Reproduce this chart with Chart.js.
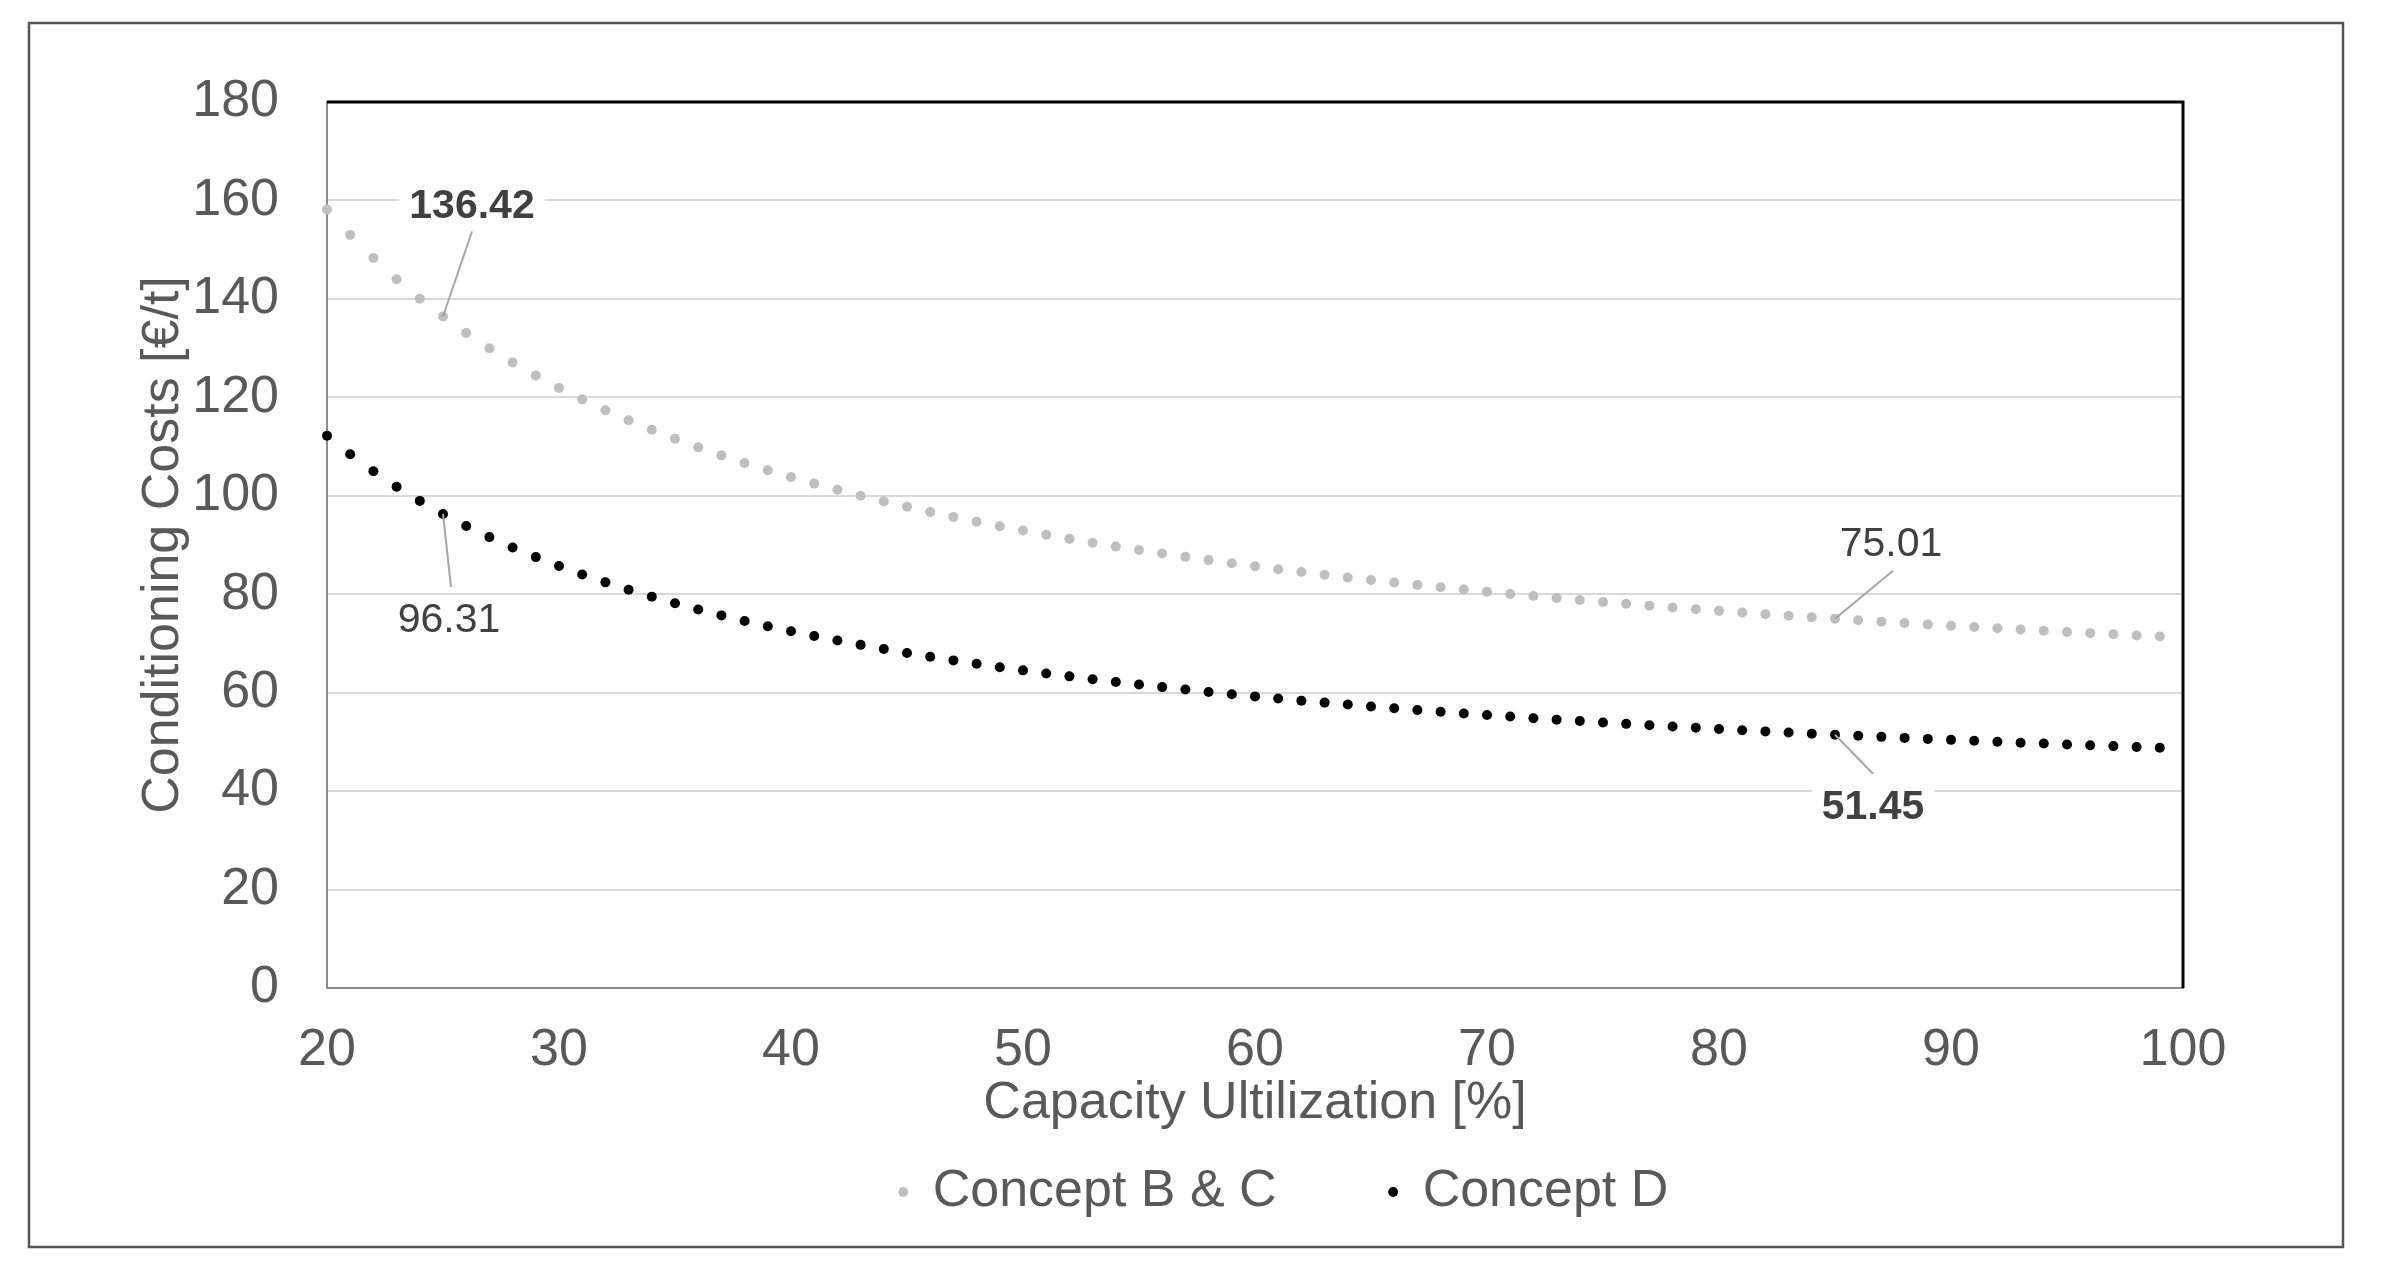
<!DOCTYPE html>
<html>
<head>
<meta charset="utf-8">
<title>Conditioning Costs vs Capacity Utilization</title>
<script src="https://cdn.jsdelivr.net/npm/chart.js@4.4.1/dist/chart.umd.min.js"></script>
<style>
  html, body { margin: 0; padding: 0; background: #ffffff; overflow: hidden; }
  canvas { display: block; }
</style>
</head>
<body>
<canvas id="chart" width="2386" height="1284"></canvas>
<script>
// ---------------- data ----------------
const utilization = [
  20, 21, 22, 23, 24, 25, 26, 27, 28, 29,
  30, 31, 32, 33, 34, 35, 36, 37, 38, 39,
  40, 41, 42, 43, 44, 45, 46, 47, 48, 49,
  50, 51, 52, 53, 54, 55, 56, 57, 58, 59,
  60, 61, 62, 63, 64, 65, 66, 67, 68, 69,
  70, 71, 72, 73, 74, 75, 76, 77, 78, 79,
  80, 81, 82, 83, 84, 85, 86, 87, 88, 89,
  90, 91, 92, 93, 94, 95, 96, 97, 98, 99
];

const conceptBC = [
  158.17, 153.00, 148.29, 143.99, 140.05, 136.42, 133.08, 129.98, 127.10, 124.43,
  121.92, 119.59, 117.39, 115.33, 113.40, 111.57, 109.84, 108.21, 106.66, 105.19,
  103.80, 102.47, 101.21, 100.01, 98.86, 97.76, 96.71, 95.70, 94.74, 93.81,
  92.93, 92.07, 91.25, 90.47, 89.71, 88.97, 88.27, 87.59, 86.93, 86.29,
  85.68, 85.08, 84.51, 83.95, 83.41, 82.89, 82.38, 81.89, 81.41, 80.95,
  80.50, 80.06, 79.64, 79.22, 78.82, 78.43, 78.05, 77.68, 77.31, 76.96,
  76.62, 76.28, 75.95, 75.63, 75.32, 75.01, 74.72, 74.43, 74.15, 73.87,
  73.60, 73.33, 73.07, 72.82, 72.57, 72.32, 72.09, 71.85, 71.62, 71.40
];

const conceptD = [
  112.20, 108.42, 104.98, 101.84, 98.96, 96.31, 93.87, 91.60, 89.50, 87.54,
  85.72, 84.01, 82.41, 80.90, 79.49, 78.15, 76.89, 75.70, 74.57, 73.50,
  72.48, 71.51, 70.59, 69.71, 68.87, 68.06, 67.30, 66.56, 65.86, 65.18,
  64.53, 63.91, 63.31, 62.74, 62.18, 61.65, 61.13, 60.63, 60.15, 59.69,
  59.24, 58.80, 58.38, 57.98, 57.58, 57.20, 56.83, 56.47, 56.12, 55.78,
  55.46, 55.14, 54.82, 54.52, 54.23, 53.94, 53.66, 53.39, 53.13, 52.87,
  52.62, 52.37, 52.13, 51.90, 51.67, 51.45, 51.23, 51.02, 50.81, 50.61,
  50.41, 50.22, 50.03, 49.84, 49.66, 49.48, 49.31, 49.14, 48.97, 48.81
];

const seriesNames = ['Concept B & C', 'Concept D'];
const xAxisTitle = 'Capacity Ultilization [%]';
const yAxisTitle = 'Conditioning Costs [€/t]';

// labelled points: which series, which utilization value, shown text
const labelSeries = [0, 1, 0, 1];
const labelAt     = [25, 25, 85, 85];
const labelText   = ['136.42', '96.31', '75.01', '51.45'];
const labelBold   = [true, false, false, true];

// ---------------- styling ----------------
const FONT = "'Liberation Sans', Arial, Helvetica, sans-serif";
const TEXT = '#595959';
const LABEL_TEXT = '#404040';
const AXIS = '#8c8c8c';
const GRID = '#d9d9d9';
const COLOR_BC = '#bfbfbf';
const COLOR_D = '#000000';

// label placements relative to their point: [text dx, text dy, leader dx, leader dy]
const labelOffsets = [
  [29, -114, 29, -85],
  [6, 103, 8, 73],
  [56, -78, 58, -48],
  [38, 69, 38, 39]
];

const frameAndLabels = {
  id: 'frameAndLabels',
  beforeDraw(chart) {
    const ctx = chart.ctx;
    ctx.save();
    ctx.fillStyle = '#ffffff';
    ctx.fillRect(0, 0, chart.width, chart.height);
    ctx.strokeStyle = '#555555';
    ctx.lineWidth = 2.5;
    ctx.strokeRect(29, 23, 2314, 1224);
    ctx.restore();
    // place the legend row like the reference (closer to the axis title, nudged right)
    const lg = chart.legend;
    if (lg) {
      const a = chart.chartArea;
      const dx = 29;
      lg.left = a.left + dx;
      lg.right = a.right + dx;
      lg.top = a.bottom + 65;
      lg.bottom = lg.top + lg.height;
    }
  },
  beforeDatasetsDraw(chart) {
    const {ctx, chartArea: a} = chart;
    ctx.save();
    ctx.strokeStyle = '#000000';
    ctx.lineWidth = 3;
    ctx.beginPath();
    ctx.moveTo(a.left, a.top);
    ctx.lineTo(a.right, a.top);
    ctx.lineTo(a.right, a.bottom);
    ctx.stroke();
    ctx.restore();
  },
  afterDatasetsDraw(chart) {
    const ctx = chart.ctx;
    ctx.save();
    for (let i = 0; i < labelText.length; i++) {
      const meta = chart.getDatasetMeta(labelSeries[i]);
      const idx = utilization.indexOf(labelAt[i]);
      const pt = meta.data[idx];
      if (!pt) continue;
      const [tdx, tdy, ldx, ldy] = labelOffsets[i];
      const cx = pt.x + tdx, cy = pt.y + tdy;
      ctx.font = (labelBold[i] ? 'bold ' : '') + '41px ' + FONT;
      const w = ctx.measureText(labelText[i]).width;
      // white box behind the label
      ctx.fillStyle = '#ffffff';
      ctx.fillRect(cx - w / 2 - 10, cy - 22, w + 20, 44);
      // leader line
      ctx.strokeStyle = '#a6a6a6';
      ctx.lineWidth = 2;
      ctx.beginPath();
      ctx.moveTo(pt.x, pt.y);
      ctx.lineTo(pt.x + ldx, pt.y + ldy);
      ctx.stroke();
      // text
      ctx.fillStyle = LABEL_TEXT;
      ctx.textAlign = 'center';
      ctx.textBaseline = 'alphabetic';
      ctx.fillText(labelText[i], cx, cy + 15);
    }
    ctx.restore();
  }
};

const toPoints = (ys) => utilization.map((x, i) => ({x: x, y: ys[i]}));

new Chart(document.getElementById('chart'), {
  type: 'line',
  data: {
    datasets: [
      {
        label: seriesNames[0],
        data: toPoints(conceptBC),
        showLine: false,
        pointRadius: 5,
        pointHoverRadius: 5,
        pointBorderWidth: 0,
        pointBackgroundColor: COLOR_BC,
        borderColor: COLOR_BC,
        backgroundColor: COLOR_BC,
        clip: false
      },
      {
        label: seriesNames[1],
        data: toPoints(conceptD),
        showLine: false,
        pointRadius: 5,
        pointHoverRadius: 5,
        pointBorderWidth: 0,
        pointBackgroundColor: COLOR_D,
        borderColor: COLOR_D,
        backgroundColor: COLOR_D,
        clip: false
      }
    ]
  },
  options: {
    responsive: false,
    animation: false,
    devicePixelRatio: 1,
    layout: { padding: { left: 0, right: 203, top: 102, bottom: -31 } },
    scales: {
      x: {
        type: 'linear',
        min: 20,
        max: 100,
        ticks: { stepSize: 10, color: TEXT, font: { family: FONT, size: 52 }, padding: 31 },
        grid: { display: false, drawTicks: false },
        border: { display: true, color: AXIS, width: 2 },
        title: {
          display: true, text: xAxisTitle, color: TEXT,
          font: { family: FONT, size: 52 }, padding: { top: 0, bottom: 5 }
        },
        afterFit(scale) { scale.height = 152; }
      },
      y: {
        min: 0,
        max: 180,
        ticks: { stepSize: 20, color: TEXT, font: { family: FONT, size: 52 }, padding: 48 },
        grid: { color: GRID, lineWidth: 2, drawTicks: false },
        border: { display: true, color: AXIS, width: 2 },
        title: {
          display: true, text: yAxisTitle, color: TEXT,
          font: { family: FONT, size: 52 }, padding: { top: 132, bottom: 0 }
        },
        afterFit(scale) { scale.width = 327; }
      }
    },
    plugins: {
      legend: {
        position: 'bottom',
        fullSize: false,
        labels: {
          usePointStyle: true,
          pointStyle: 'circle',
          boxWidth: 7,
          boxHeight: 7,
          padding: 113,
          color: TEXT,
          font: { family: FONT, size: 52 }
        }
      },
      tooltip: { enabled: false }
    },
    events: []
  },
  plugins: [frameAndLabels]
});
</script>
</body>
</html>
